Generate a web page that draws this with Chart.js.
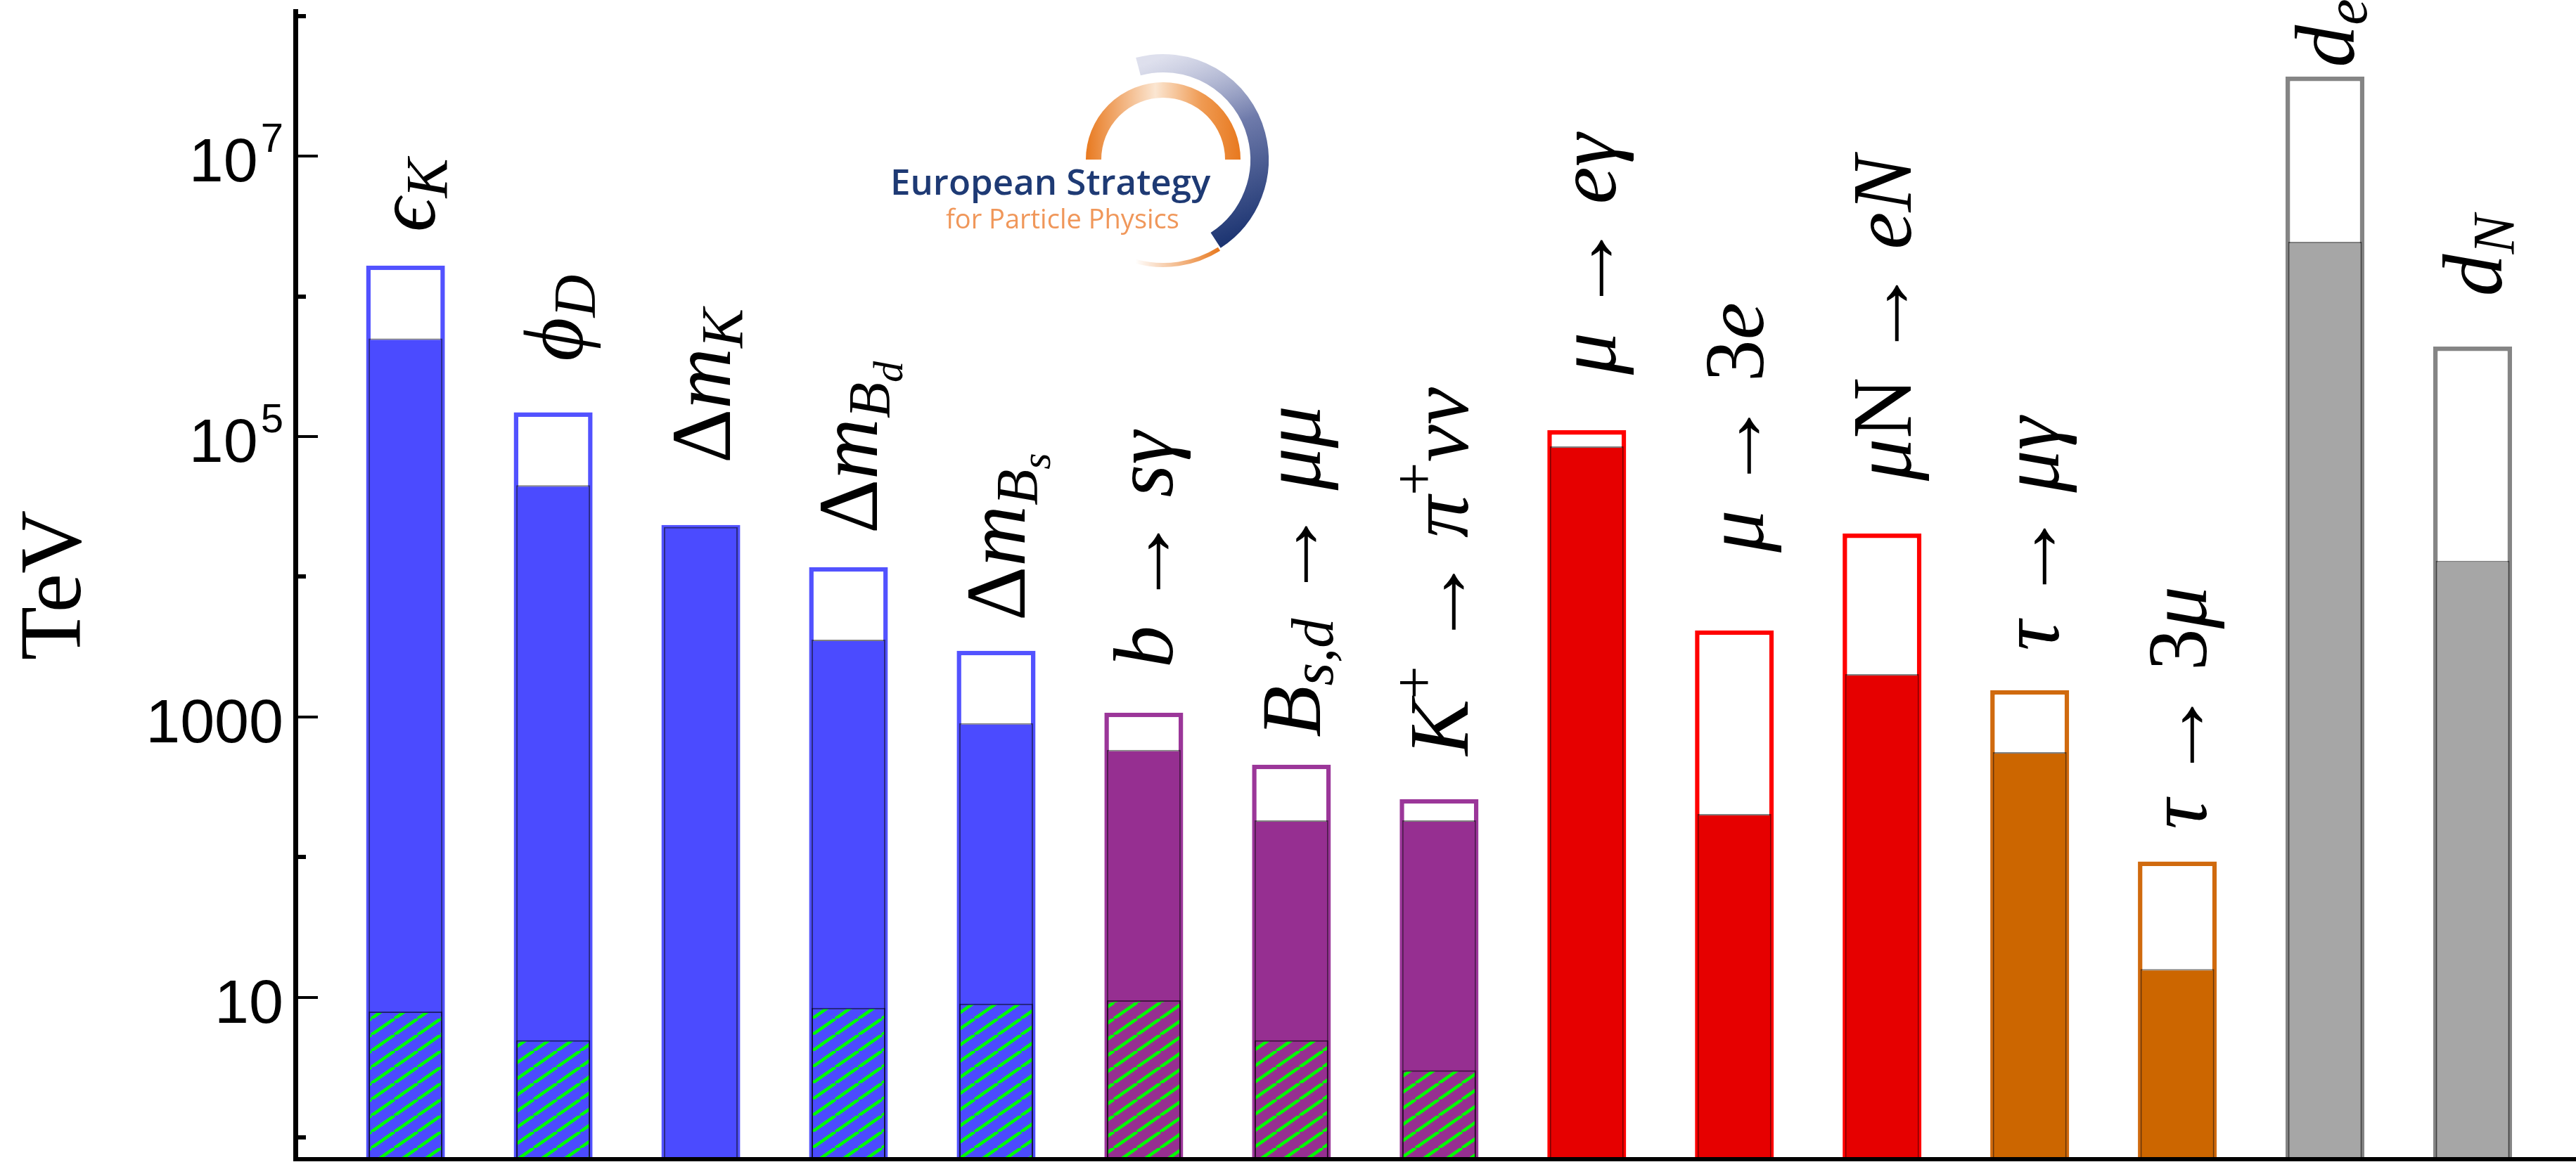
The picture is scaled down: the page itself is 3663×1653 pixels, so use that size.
<!DOCTYPE html>
<html>
<head>
<meta charset="utf-8">
<title>Indirect reach of flavour and EDM observables</title>
<script src="https://cdn.jsdelivr.net/npm/chart.js@4.4.1/dist/chart.umd.min.js"></script>
<style>
  html, body { margin: 0; padding: 0; background: #fff; }
  canvas { display: block; }
</style>
</head>
<body>
<canvas id="reachChart" width="3663" height="1653"></canvas>
<script>
// category labels, as [text, kind] runs so the subscripts can be typeset
const observables = [
  [['ϵ', 'i'], ['K', 'sub']],
  [['ϕ', 'i'], ['D', 'sub']],
  [['Δ', 'r'], ['m', 'i'], ['K', 'sub']],
  [['Δ', 'r'], ['m', 'i'], ['B', 'sub'], ['d', 'sub2']],
  [['Δ', 'r'], ['m', 'i'], ['B', 'sub'], ['s', 'sub2']],
  [['b', 'i'], ['→', 'rel'], ['s', 'i'], ['γ', 'i']],
  [['B', 'i'], ['s,d', 'sub'], ['→', 'rel'], ['μμ', 'i']],
  [['K', 'i'], ['+', 'sup'], ['→', 'rel'], ['π', 'i'], ['+', 'sup'], ['νν', 'i']],
  [['μ', 'i'], ['→', 'rel'], ['e', 'i'], ['γ', 'i']],
  [['μ', 'i'], ['→', 'rel'], ['3', 'r'], ['e', 'i']],
  [['μ', 'i'], ['N', 'r'], ['→', 'rel'], ['e', 'i'], ['N', 'i']],
  [['τ', 'i'], ['→', 'rel'], ['μ', 'i'], ['γ', 'i']],
  [['τ', 'i'], ['→', 'rel'], ['3', 'r'], ['μ', 'i']],
  [['d', 'i'], ['e', 'sub']],
  [['d', 'i'], ['N', 'sub']]
];
const sectors = ['meson', 'meson', 'meson', 'meson', 'meson', 'rare', 'rare', 'rare',
  'muon', 'muon', 'muon', 'tau', 'tau', 'edm', 'edm'];

// reach in TeV
const presentReach = [5.0e5, 4.49e4, 2.26e4, 3.55e3, 903, 581, 183, 183, 8.5e4, 203, 2.02e3, 561, 15.9, 2.45e6, 1.30e4];
const futureReach = [1.66e6, 1.49e5, 2.34e4, 1.17e4, 2.96e3, 1072, 456, 259, 1.11e5, 4.14e3, 2.03e4, 1.55e3, 93, 3.69e7, 4.38e5];
const smReach = [7.9, 4.94, null, 8.4, 9.0, 9.5, 4.94, 3.02, null, null, null, null, null, null, null];
// where each rotated label starts (TeV)
const labelBase = [2.88e6, 3.45e5, 6.45e4, 2.03e4, 4.86e3, 2.24e3, 716, 530, 2.76e5, 1.49e4, 4.83e4, 2.96e3, 158, 4.3e7, 1.0e6];

const tickValues = [1, 10, 100, 1000, 1e4, 1e5, 1e6, 1e7, 1e8];
const tickLabels = ['', '10', '', '1000', '', '10^5', '', '10^7', ''];
const axisMin = 0.7;
const axisMax = 1.08e8;

const fillColors = { meson: '#4b4bff', rare: '#962f91', muon: '#e60000', tau: '#cc6600', edm: '#a6a6a6' };
const lineColors = { meson: '#5252ff', rare: '#9b3699', muon: '#ff0000', tau: '#d06a0e', edm: '#858585' };

function makeHatch() {
  const w = 33, h = 23;
  const c = document.createElement('canvas');
  c.width = w; c.height = h;
  const g = c.getContext('2d');
  g.strokeStyle = '#00ff00';
  g.lineWidth = 4.5;
  for (const dx of [-w, 0, w]) {
    g.beginPath();
    g.moveTo(dx, h);
    g.lineTo(dx + w, 0);
    g.stroke();
  }
  return g.createPattern(c, 'repeat');
}

function drawMath(ctx, runs, x, y, size) {
  ctx.save();
  ctx.translate(x, y);
  ctx.rotate(-Math.PI / 2);
  ctx.fillStyle = '#000';
  ctx.textBaseline = 'alphabetic';
  ctx.textAlign = 'left';
  let pos = 0;
  runs.forEach(([text, kind]) => {
    let fs = size, dy = 0, italic = true, gap = 0;
    if (kind === 'r') italic = false;
    if (kind === 'sub') { fs = size * 0.7; dy = size * 0.15; }
    if (kind === 'sub2') { fs = size * 0.5; dy = size * 0.3; }
    if (kind === 'sup') { fs = size * 0.7; dy = -size * 0.4; italic = false; }
    if (kind === 'rel') { italic = false; gap = size * 0.2; }
    fs = Math.round(fs);
    ctx.font = (italic ? 'italic ' : '') + fs + 'px "Liberation Serif", "DejaVu Serif", serif';
    pos += gap;
    if (kind === 'rel') {
      // stretch the arrow towards TeX width
      const w = ctx.measureText(text).width;
      ctx.save();
      ctx.translate(pos, dy);
      ctx.scale(1.12, 1);
      ctx.fillText(text, 0, 0);
      ctx.restore();
      pos += w * 1.12 + gap;
    } else {
      ctx.fillText(text, pos, dy);
      pos += ctx.measureText(text).width + gap;
    }
  });
  ctx.restore();
}

function drawTickLabel(ctx, text, right, py) {
  const [base, exp] = text.split('^');
  const big = '88px "Liberation Sans", Arial, sans-serif';
  const small = '58px "Liberation Sans", Arial, sans-serif';
  ctx.textAlign = 'left';
  ctx.textBaseline = 'alphabetic';
  ctx.fillStyle = '#000';
  ctx.font = big;
  const bw = ctx.measureText(base).width;
  ctx.font = small;
  const ew = exp ? ctx.measureText(exp).width + 4 : 0;
  const x0 = right - bw - ew;
  const baseY = py + 36;
  ctx.font = big;
  ctx.fillText(base, x0, baseY);
  if (exp) {
    ctx.font = small;
    ctx.fillText(exp, x0 + bw + 4, baseY - 42);
  }
}

function drawLogo(ctx) {
  const cx = 1654, cy = 227;
  ctx.save();
  // navy outer ring
  let g = ctx.createLinearGradient(1630, 90, 1730, 350);
  g.addColorStop(0, 'rgba(200,203,225,0.6)');
  g.addColorStop(0.45, '#6f7bab');
  g.addColorStop(1, '#1d3572');
  ctx.strokeStyle = g;
  ctx.lineWidth = 26;
  ctx.beginPath();
  ctx.arc(cx, cy, 137, -105 * Math.PI / 180, 57 * Math.PI / 180);
  ctx.stroke();
  // orange inner arc
  g = ctx.createLinearGradient(cx - 110, 0, cx + 110, 0);
  g.addColorStop(0, '#e8791f');
  g.addColorStop(0.45, '#fbe6d2');
  g.addColorStop(0.75, '#ef9a52');
  g.addColorStop(1, '#e8791f');
  ctx.strokeStyle = g;
  ctx.lineWidth = 22;
  ctx.beginPath();
  ctx.arc(cx, cy, 99, Math.PI, 2 * Math.PI);
  ctx.stroke();
  // thin orange tail under the ring
  g = ctx.createLinearGradient(cx + 80, 0, cx - 40, 0);
  g.addColorStop(0, '#e8791f');
  g.addColorStop(1, 'rgba(232,121,31,0)');
  ctx.strokeStyle = g;
  ctx.lineWidth = 6;
  ctx.beginPath();
  ctx.arc(cx, cy, 150, 58 * Math.PI / 180, 105 * Math.PI / 180);
  ctx.stroke();
  // text
  ctx.textAlign = 'left';
  ctx.textBaseline = 'alphabetic';
  ctx.fillStyle = '#1e3a74';
  ctx.font = '600 51px "Open Sans", "Noto Sans", sans-serif';
  ctx.fillText('European Strategy', 1266, 277);
  ctx.fillStyle = '#f0975a';
  ctx.font = '38px "Open Sans", "Noto Sans", sans-serif';
  ctx.fillText('for Particle Physics', 1345, 325);
  ctx.restore();
}

const decorations = {
  id: 'decorations',
  afterDraw(chart) {
    const { ctx, chartArea, scales: { x, y } } = chart;
    ctx.save();
    ctx.strokeStyle = '#000';
    tickValues.forEach((v, i) => {
      const py = Math.round(y.getPixelForValue(v));
      const major = tickLabels[i] !== '';
      ctx.lineWidth = major ? 4 : 6;
      ctx.beginPath();
      ctx.moveTo(chartArea.left, py);
      ctx.lineTo(chartArea.left + (major ? 32 : 15), py);
      ctx.stroke();
      if (major) drawTickLabel(ctx, tickLabels[i], chartArea.left - 17, py);
    });
    observables.forEach((runs, i) => {
      drawMath(ctx, runs, x.getPixelForValue(i) + 41, y.getPixelForValue(labelBase[i]), 120);
    });
    drawLogo(ctx);
    ctx.restore();
  }
};

const idx = observables.map((_, i) => i);

new Chart(document.getElementById('reachChart'), {
  type: 'bar',
  data: {
    datasets: [
      {
        label: 'Future sensitivity',
        data: idx.map(i => ({ x: i, y: [axisMin, futureReach[i]] })),
        backgroundColor: '#ffffff',
        borderColor: sectors.map(s => lineColors[s]),
        borderWidth: 6.5,
        grouped: false,
        categoryPercentage: 1,
        barPercentage: 0.534,
        order: 3
      },
      {
        label: 'Present bound',
        data: idx.map(i => ({ x: i, y: [axisMin, presentReach[i]] })),
        backgroundColor: sectors.map(s => fillColors[s]),
        borderColor: 'rgba(0,0,0,0.5)',
        borderWidth: 2,
        grouped: false,
        categoryPercentage: 1,
        barPercentage: 0.5,
        order: 2
      },
      {
        label: 'SM-like',
        data: idx.map(i => ({ x: i, y: smReach[i] === null ? null : [axisMin, smReach[i]] })),
        backgroundColor: makeHatch(),
        borderColor: 'rgba(0,0,0,0.55)',
        borderWidth: 2,
        grouped: false,
        categoryPercentage: 1,
        barPercentage: 0.5,
        order: 1
      }
    ]
  },
  options: {
    responsive: false,
    devicePixelRatio: 1,
    animation: false,
    layout: { padding: { top: 16, left: 0, right: 0, bottom: 0 } },
    plugins: {
      legend: { display: false },
      tooltip: { enabled: false }
    },
    scales: {
      x: {
        type: 'linear',
        min: -0.746,
        max: 14.70,
        offset: false,
        grid: { display: false, drawTicks: false, offset: false },
        ticks: { display: false },
        border: { display: true, color: '#000', width: 6, z: 1 },
        // one tick per observable so the bar width follows the category spacing
        afterBuildTicks: s => { s.ticks = idx.map(v => ({ value: v })); },
        afterFit: s => { s.height = 4; }
      },
      y: {
        type: 'logarithmic',
        min: axisMin,
        max: axisMax,
        grid: { display: false, drawTicks: false },
        ticks: { display: false },
        border: { display: true, color: '#000', width: 7, z: 1 },
        title: {
          display: true,
          text: 'TeV',
          color: '#000',
          font: { family: '"Liberation Serif", serif', size: 125 },
          padding: { top: 6, bottom: 0 }
        },
        afterFit: s => { s.width = 420; }
      }
    }
  },
  plugins: [decorations]
});
</script>
</body>
</html>
